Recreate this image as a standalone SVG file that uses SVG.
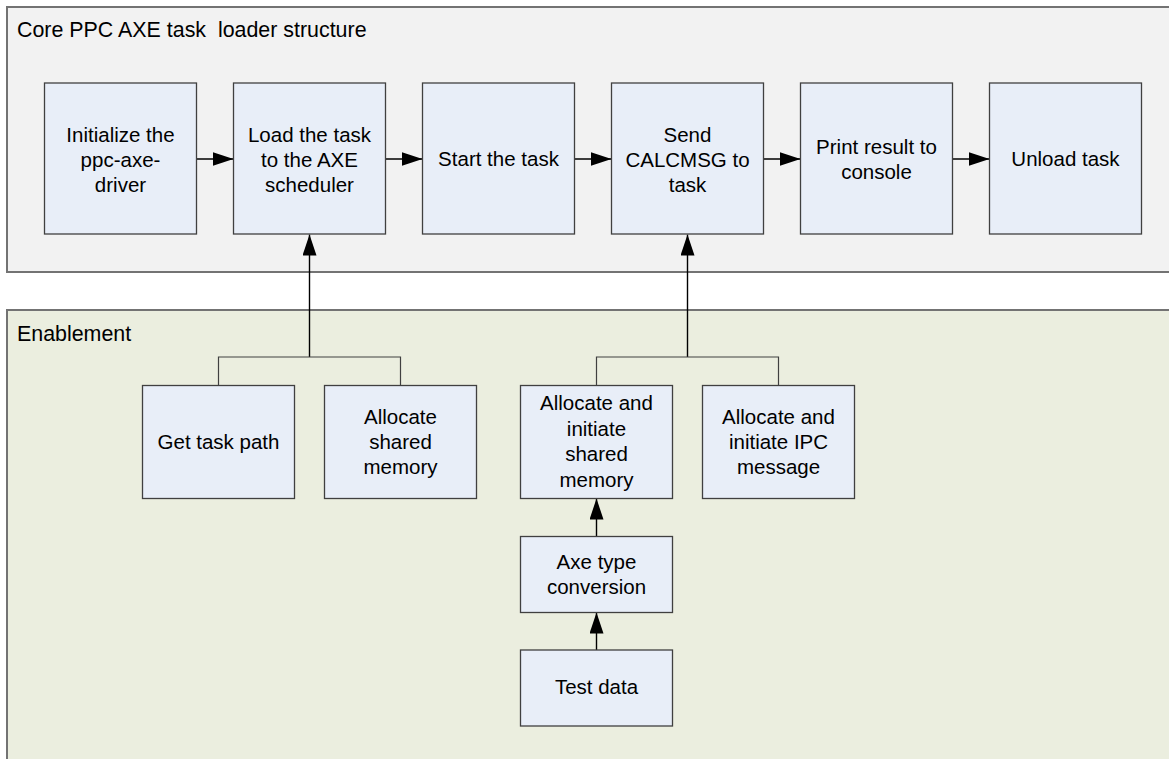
<svg xmlns="http://www.w3.org/2000/svg" width="1169" height="759" viewBox="0 0 1169 759">
  <defs>
    <style>
      .lane { stroke: #737373; stroke-width: 2; }
      .core { fill: #f2f2f2; }
      .enable { fill: #ebeedf; }
      .box { fill: #e8eef8; stroke: #404040; stroke-width: 1.3; }
      .lbl { font-family: "Liberation Sans", Arial, sans-serif; font-size: 20.5px; fill: #000; text-anchor: middle; }
      .title { font-family: "Liberation Sans", Arial, sans-serif; font-size: 21.4px; fill: #000; }
      .wire { fill: none; stroke: #000; stroke-width: 1.4; }
      .branch { fill: none; stroke: #404040; stroke-width: 1.2; }
    </style>
    <marker id="head" viewBox="0 0 21 14" refX="21" refY="7" markerWidth="21" markerHeight="14" markerUnits="userSpaceOnUse" orient="auto">
      <path d="M0,0 L21,7 L0,14 Z" fill="#000"/>
    </marker>
  </defs>

  <!-- swimlanes -->
  <g id="lane-core">
    <rect class="lane core" x="7" y="7" width="1175" height="265"/>
    <text class="title" x="17" y="37" xml:space="preserve">Core PPC AXE task  loader structure</text>
  </g>
  <g id="lane-enablement">
    <rect class="lane enable" x="7" y="310" width="1175" height="460"/>
    <text class="title" x="17" y="341">Enablement</text>
  </g>

  <!-- connectors -->
  <g id="connectors">
    <line class="wire" x1="196.5" y1="159" x2="233.5" y2="159" marker-end="url(#head)"/>
    <line class="wire" x1="385.5" y1="159" x2="422.5" y2="159" marker-end="url(#head)"/>
    <line class="wire" x1="574.5" y1="159" x2="611.5" y2="159" marker-end="url(#head)"/>
    <line class="wire" x1="763.5" y1="159" x2="800.5" y2="159" marker-end="url(#head)"/>
    <line class="wire" x1="952.5" y1="159" x2="989.5" y2="159" marker-end="url(#head)"/>

    <line class="wire" x1="309.5" y1="357" x2="309.5" y2="234.5" marker-end="url(#head)"/>
    <path class="branch" d="M218.5,385.5 V357 H400.5 V385.5"/>

    <line class="wire" x1="687.5" y1="357" x2="687.5" y2="234.5" marker-end="url(#head)"/>
    <path class="branch" d="M596.5,385.5 V357 H778.5 V385.5"/>

    <line class="wire" x1="596.5" y1="536.5" x2="596.5" y2="498.5" marker-end="url(#head)"/>
    <line class="wire" x1="596.5" y1="650" x2="596.5" y2="612.5" marker-end="url(#head)"/>
  </g>

  <!-- main flow -->
  <g id="init-driver">
    <rect class="box" x="44.5" y="83" width="152" height="151"/>
    <text class="lbl" x="120.5" y="141.5">Initialize the</text>
    <text class="lbl" x="120.5" y="166.5">ppc-axe-</text>
    <text class="lbl" x="120.5" y="191.5">driver</text>
  </g>
  <g id="load-task">
    <rect class="box" x="233.5" y="83" width="152" height="151"/>
    <text class="lbl" x="309.5" y="141.5">Load the task</text>
    <text class="lbl" x="309.5" y="166.5">to the AXE</text>
    <text class="lbl" x="309.5" y="191.5">scheduler</text>
  </g>
  <g id="start-task">
    <rect class="box" x="422.5" y="83" width="152" height="151"/>
    <text class="lbl" x="498.5" y="166">Start the task</text>
  </g>
  <g id="send-calcmsg">
    <rect class="box" x="611.5" y="83" width="152" height="151"/>
    <text class="lbl" x="687.5" y="141.5">Send</text>
    <text class="lbl" x="687.5" y="166.5">CALCMSG to</text>
    <text class="lbl" x="687.5" y="191.5">task</text>
  </g>
  <g id="print-result">
    <rect class="box" x="800.5" y="83" width="152" height="151"/>
    <text class="lbl" x="876.5" y="153.5">Print result to</text>
    <text class="lbl" x="876.5" y="178.5">console</text>
  </g>
  <g id="unload-task">
    <rect class="box" x="989.5" y="83" width="152" height="151"/>
    <text class="lbl" x="1065.5" y="166">Unload task</text>
  </g>

  <!-- enablement steps -->
  <g id="get-task-path">
    <rect class="box" x="142.5" y="385.5" width="152" height="113"/>
    <text class="lbl" x="218.5" y="449">Get task path</text>
  </g>
  <g id="alloc-shm">
    <rect class="box" x="324.5" y="385.5" width="152" height="113"/>
    <text class="lbl" x="400.5" y="424">Allocate</text>
    <text class="lbl" x="400.5" y="449">shared</text>
    <text class="lbl" x="400.5" y="474">memory</text>
  </g>
  <g id="alloc-init-shm">
    <rect class="box" x="520.5" y="385.5" width="152" height="113"/>
    <text class="lbl" x="596.5" y="410">Allocate and</text>
    <text class="lbl" x="596.5" y="435.5">initiate</text>
    <text class="lbl" x="596.5" y="461">shared</text>
    <text class="lbl" x="596.5" y="486.5">memory</text>
  </g>
  <g id="alloc-ipc">
    <rect class="box" x="702.5" y="385.5" width="152" height="113"/>
    <text class="lbl" x="778.5" y="424">Allocate and</text>
    <text class="lbl" x="778.5" y="449">initiate IPC</text>
    <text class="lbl" x="778.5" y="474">message</text>
  </g>
  <g id="axe-type-conversion">
    <rect class="box" x="520.5" y="536.5" width="152" height="76"/>
    <text class="lbl" x="596.5" y="568.5">Axe type</text>
    <text class="lbl" x="596.5" y="594">conversion</text>
  </g>
  <g id="test-data">
    <rect class="box" x="520.5" y="650" width="152" height="76"/>
    <text class="lbl" x="596.5" y="693.5">Test data</text>
  </g>
</svg>
